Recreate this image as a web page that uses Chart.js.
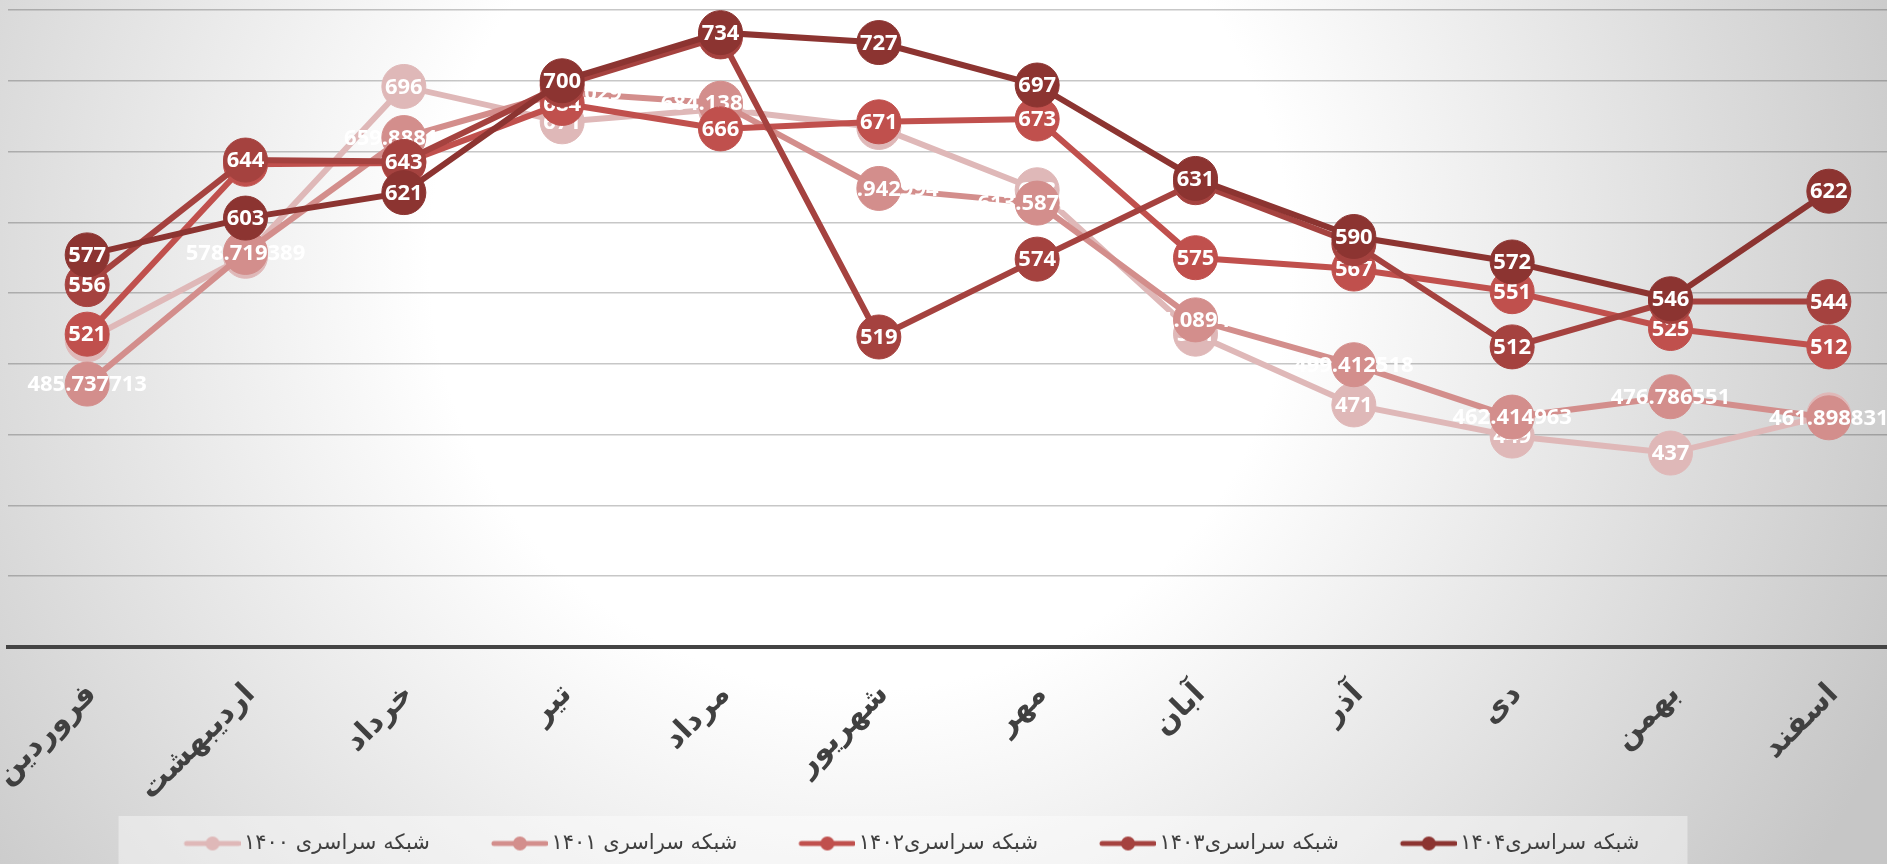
<!DOCTYPE html>
<html>
<head>
<meta charset="utf-8">
<script src="https://cdn.jsdelivr.net/npm/chart.js@4.4.0/dist/chart.umd.min.js"></script>
<style>
    html, body { margin: 0; padding: 0; overflow: hidden; }
    #wrap {
        width: 1887px; height: 864px; overflow: hidden;
        background: radial-gradient(circle at 860px 260px, #ffffff 0px, #ffffff 430px, #c6c6c6 1130px);
    }
    canvas { display: block; }
</style>
</head>
<body>
<!-- the plot runs a little past the right edge, as in the original picture -->
<div id="wrap"><canvas id="chart" width="1908" height="864"></canvas></div>
<script>
const months = ['فروردین', 'اردیبهشت', 'خرداد', 'تیر', 'مرداد', 'شهریور', 'مهر', 'آبان', 'آذر', 'دی', 'بهمن', 'اسفند'];

const names = ['شبکه سراسری ۱۴۰۰', 'شبکه سراسری ۱۴۰۱', 'شبکه سراسری۱۴۰۲', 'شبکه سراسری۱۴۰۳', 'شبکه سراسری۱۴۰۴'];

const net1400 = [517, 576, 696, 671, 680, 667, 623, 521, 471, 449, 437, 464];
const net1401 = [485.737713, 578.719389, 659.888183, 691.698029, 684.138566, 623.942994, 613.587513, 531.089416, 499.412518, 462.414963, 476.786551, 461.898831];
const net1402 = [521, 641, 642, 684, 666, 671, 673, 575, 567, 551, 525, 512];
const net1403 = [556, 644, 643, 697, 731, 519, 574, 628, 585, 512, 544, 544];
const net1404 = [577, 603, 621, 700, 734, 727, 697, 631, 590, 572, 546, 622];

const colors = ['#dfb8b8', '#d38e8c', '#c0504d', '#a5423f', '#8c3431'];

// legend symbol: a short line with a dot, drawn to the right end of a wider canvas
function legendSymbol(color) {
    const c = document.createElement('canvas');
    c.width = 115;
    c.height = 16;
    const g = c.getContext('2d');
    g.strokeStyle = color;
    g.lineWidth = 5;
    g.lineCap = 'round';
    g.beginPath();
    g.moveTo(61, 8);
    g.lineTo(113, 8);
    g.stroke();
    g.fillStyle = color;
    g.beginPath();
    g.arc(87, 8, 7, 0, Math.PI * 2);
    g.fill();
    return c;
}

const valueLabels = {
    id: 'valueLabels',
    afterDatasetDraw(chart, args) {
        const { ctx } = chart;
        const data = chart.data.datasets[args.index].data;
        ctx.save();
        ctx.font = 'bold 22px "Open Sans"';
        ctx.fillStyle = '#ffffff';
        ctx.textAlign = 'center';
        ctx.textBaseline = 'middle';
        args.meta.data.forEach((pt, i) => {
            ctx.fillText(String(data[i]), pt.x, pt.y + 1);
        });
        ctx.restore();
    }
};

const legendPanel = {
    id: 'legendPanel',
    afterLayout(chart) {
        const shift = chart.options.plugins.legendPanel.shift;
        chart.legend.left += shift;
        chart.legend.right += shift;
    },
    beforeDraw(chart) {
        const boxes = chart.legend.legendHitBoxes;
        if (!boxes || !boxes.length) return;
        const left = Math.min(...boxes.map(b => b.left)) - 14;
        const right = Math.max(...boxes.map(b => b.left + b.width)) + 48;
        const { ctx } = chart;
        ctx.save();
        ctx.fillStyle = 'rgba(255, 255, 255, 0.4)';
        ctx.fillRect(left, chart.legend.top - 7, right - left, chart.height - chart.legend.top + 7);
        ctx.restore();
    }
};

const datasets = [net1400, net1401, net1402, net1403, net1404].map((values, i) => ({
    label: names[i],
    data: values,
    borderColor: colors[i],
    backgroundColor: colors[i],
    pointBackgroundColor: colors[i],
    pointBorderColor: colors[i],
    borderWidth: 6,
    pointRadius: 22,
    pointHoverRadius: 22,
    pointBorderWidth: 1,
    tension: 0,
    order: 5 - i
}));

new Chart(document.getElementById('chart').getContext('2d'), {
    type: 'line',
    data: { labels: months, datasets },
    options: {
        responsive: false,
        animation: false,
        layout: { autoPadding: false, padding: { left: 8, right: 0, top: 10, bottom: 0 } },
        plugins: {
            tooltip: { enabled: false },
            legendPanel: { shift: -72 },
            legend: {
                position: 'bottom',
                reverse: true,
                labels: {
                    usePointStyle: true,
                    pointStyleWidth: 101,
                    padding: 10,
                    color: '#404040',
                    font: { family: '"DejaVu Sans"', size: 21 },
                    generateLabels(chart) {
                        const items = Chart.defaults.plugins.legend.labels.generateLabels(chart);
                        return items.map(item => ({ ...item, pointStyle: legendSymbol(colors[item.datasetIndex]) }));
                    }
                }
            }
        },
        scales: {
            x: {
                offset: true,
                grid: { display: false, drawTicks: false },
                border: { display: true, color: '#444444', width: 4 },
                ticks: {
                    autoSkip: false,
                    minRotation: 45,
                    maxRotation: 45,
                    padding: 30,
                    labelOffset: 5,
                    color: '#404040',
                    font: { family: '"DejaVu Sans"', weight: 'bold', size: 30 }
                },
                afterFit(scale) {
                    scale.height = 176;
                    scale.paddingLeft = 0;
                    scale.paddingRight = 0;
                }
            },
            y: {
                min: 300,
                max: 750,
                ticks: { stepSize: 50, display: false },
                grid: { color: 'rgba(0, 0, 0, 0.22)', lineWidth: 1.5, drawTicks: false },
                border: { display: false },
                afterFit(scale) {
                    scale.paddingTop = 0;
                    scale.paddingBottom = 0;
                }
            }
        }
    },
    plugins: [valueLabels, legendPanel]
});
</script>
</body>
</html>
